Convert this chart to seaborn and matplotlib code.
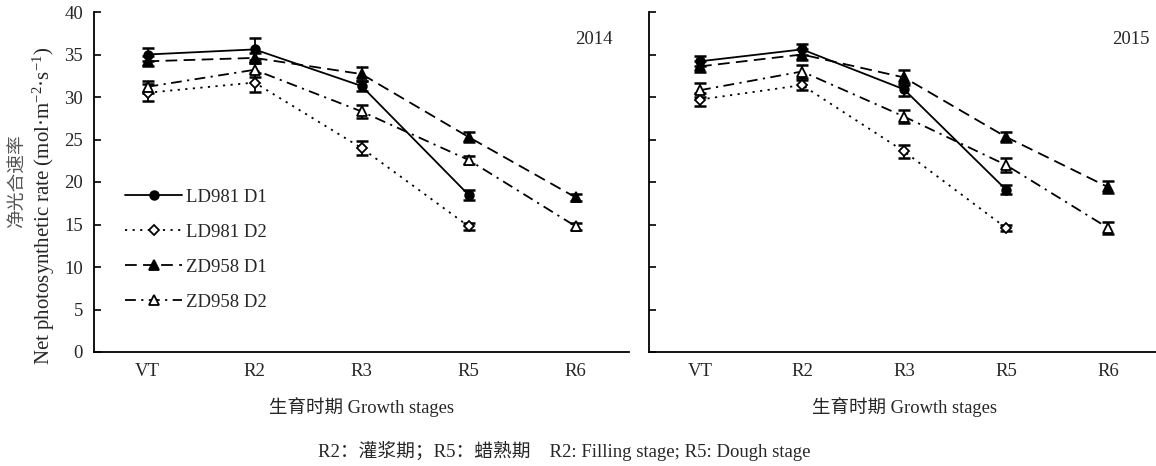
import numpy as np
import pandas as pd
import matplotlib
matplotlib.use("Agg")
import matplotlib.pyplot as plt
import seaborn as sns
from matplotlib.lines import Line2D
from matplotlib.ticker import FixedLocator, MultipleLocator

# ---------------- data ----------------
stages = ["VT", "R2", "R3", "R5", "R6"]
series_names = ["LD981 D1", "LD981 D2", "ZD958 D1", "ZD958 D2"]

# 2014 (LD981 has no R6 measurement)
ld981_d1_2014 = [35.0, 35.6, 31.3, 18.5]
ld981_d1_2014_err = [0.8, 1.3, 0.6, 0.6]
ld981_d2_2014 = [30.5, 31.7, 24.0, 14.8]
ld981_d2_2014_err = [1.0, 1.1, 0.8, 0.4]
zd958_d1_2014 = [34.2, 34.6, 32.7, 25.3, 18.2]
zd958_d1_2014_err = [0.6, 0.6, 0.8, 0.6, 0.4]
zd958_d2_2014 = [31.2, 33.2, 28.3, 22.6, 14.8]
zd958_d2_2014_err = [0.7, 0.8, 0.8, 0.5, 0.4]

# 2015
ld981_d1_2015 = [34.2, 35.6, 30.9, 19.1]
ld981_d1_2015_err = [0.6, 0.6, 0.8, 0.5]
ld981_d2_2015 = [29.7, 31.4, 23.6, 14.6]
ld981_d2_2015_err = [0.8, 0.6, 0.8, 0.4]
zd958_d1_2015 = [33.6, 35.0, 32.3, 25.3, 19.4]
zd958_d1_2015_err = [0.6, 0.6, 0.9, 0.6, 0.7]
zd958_d2_2015 = [30.8, 33.0, 27.7, 22.0, 14.6]
zd958_d2_2015_err = [0.8, 0.8, 0.8, 0.8, 0.7]

year_labels = ["2014", "2015"]
ylabel_cn = "净光合速率"
ylabel_en = r"Net photosynthetic rate (mol·m$^{-2}$·s$^{-1}$)"
xlabel_text = "生育时期 Growth stages"
caption = "R2：灌浆期；R5：蜡熟期    R2: Filling stage; R5: Dough stage"

data = {
    "2014": {
        "LD981 D1": (ld981_d1_2014, ld981_d1_2014_err),
        "LD981 D2": (ld981_d2_2014, ld981_d2_2014_err),
        "ZD958 D1": (zd958_d1_2014, zd958_d1_2014_err),
        "ZD958 D2": (zd958_d2_2014, zd958_d2_2014_err),
    },
    "2015": {
        "LD981 D1": (ld981_d1_2015, ld981_d1_2015_err),
        "LD981 D2": (ld981_d2_2015, ld981_d2_2015_err),
        "ZD958 D1": (zd958_d1_2015, zd958_d1_2015_err),
        "ZD958 D2": (zd958_d2_2015, zd958_d2_2015_err),
    },
}

rows = []
for yr, d in data.items():
    for s, (vals, errs) in d.items():
        for st, v, e in zip(stages, vals, errs):
            rows.append({"year": yr, "series": s, "stage": st, "value": v, "err": e})
df = pd.DataFrame(rows)

# ---------------- style ----------------
sns.set_style("white")
plt.rcParams["font.family"] = ["Liberation Serif", "Noto Sans CJK SC"]
plt.rcParams["mathtext.fontset"] = "custom"
plt.rcParams["mathtext.rm"] = "Liberation Serif"
plt.rcParams["mathtext.it"] = "Liberation Serif:italic"
plt.rcParams["axes.unicode_minus"] = False

styles = {
    "LD981 D1": dict(ls="-", marker="o", mfc="black", ms=6.2),
    "LD981 D2": dict(ls=(0, (1.2, 3.0)), marker="D", mfc="white", ms=4.8),
    "ZD958 D1": dict(ls=(0, (6.5, 3.5)), marker="^", mfc="black", ms=7.2),
    "ZD958 D2": dict(ls=(0, (6, 3, 1.2, 3)), marker="^", mfc="white", ms=7.2),
}

W, H = 1156, 466
fig = plt.figure(figsize=(W / 100, H / 100), dpi=100)
ax_rects = [
    [94 / W, (H - 352) / H, 535 / W, 340 / H],
    [649 / W, (H - 352) / H, 510 / W, 340 / H],
]
year_pos = [0.970, 0.982]

for i, yr in enumerate(year_labels):
    ax = fig.add_axes(ax_rects[i])
    ax.xaxis.update_units(np.array(stages))
    sub_year = df[df["year"] == yr]
    for s in series_names:
        sub = sub_year[sub_year["series"] == s]
        st = styles[s]
        ax.errorbar(sub["stage"], sub["value"], yerr=sub["err"], fmt="none",
                    ecolor="black", elinewidth=1.3, capsize=4.3, capthick=1.8,
                    zorder=3)
        sns.lineplot(data=sub, x="stage", y="value", ax=ax, color="black",
                     linestyle=st["ls"], lw=1.3, marker=st["marker"],
                     markerfacecolor=st["mfc"], markeredgecolor="black",
                     markeredgewidth=1.3, markersize=st["ms"],
                     estimator=None, sort=False, legend=False, zorder=4)

    ax.set_xlim(-0.5, 4.5)
    ax.set_ylim(0, 40)
    ax.yaxis.set_major_locator(MultipleLocator(5))
    ax.xaxis.set_major_locator(FixedLocator(range(len(stages))))
    ax.set_xticklabels(stages)
    ax.xaxis.set_minor_locator(FixedLocator(np.arange(0.5, len(stages), 1.0)))
    ax.tick_params(axis="x", which="major", length=0, pad=8, labelsize=13.5)
    ax.tick_params(axis="x", which="minor", direction="in", length=5, width=1.2,
                   color="black")
    ax.tick_params(axis="y", which="major", direction="in", length=5, width=1.2,
                   pad=8, labelsize=13.5, color="black", left=True)
    if i == 1:
        ax.tick_params(axis="y", labelleft=False)
    for side in ["top", "right"]:
        ax.spines[side].set_visible(False)
    for side in ["left", "bottom"]:
        ax.spines[side].set_color("black")
        ax.spines[side].set_linewidth(1.3)
    ax.grid(False)
    ax.set_ylabel("")
    ax.set_xlabel(xlabel_text, fontsize=13.3, labelpad=12)
    ax.text(year_pos[i], 0.918, yr, transform=ax.transAxes, ha="right",
            va="center", fontsize=13.5)

    if i == 0:
        handles = []
        for s in series_names:
            st = styles[s]
            handles.append(Line2D([], [], color="black", linestyle=st["ls"], lw=1.3,
                                  marker=st["marker"], markerfacecolor=st["mfc"],
                                  markeredgecolor="black", markeredgewidth=1.3,
                                  markersize=st["ms"]))
        ax.legend(handles, series_names, loc="center left",
                  bbox_to_anchor=(0.058, 0.301), frameon=False, fontsize=13.5,
                  handlelength=3.05, handletextpad=0.2, labelspacing=0.95,
                  borderpad=0, borderaxespad=0, numpoints=1)

fig.text(18 / W, 1 - 181 / H, ylabel_cn, rotation=90, ha="center", va="center",
         fontsize=13.5, color="#555555")
fig.text(44 / W, 1 - 206 / H, ylabel_en, rotation=90, ha="center", va="center",
         fontsize=15)
fig.text(564 / W, 1 - 451 / H, caption, ha="center", va="center", fontsize=13.5)

fig.savefig("out.png", dpi=100)
